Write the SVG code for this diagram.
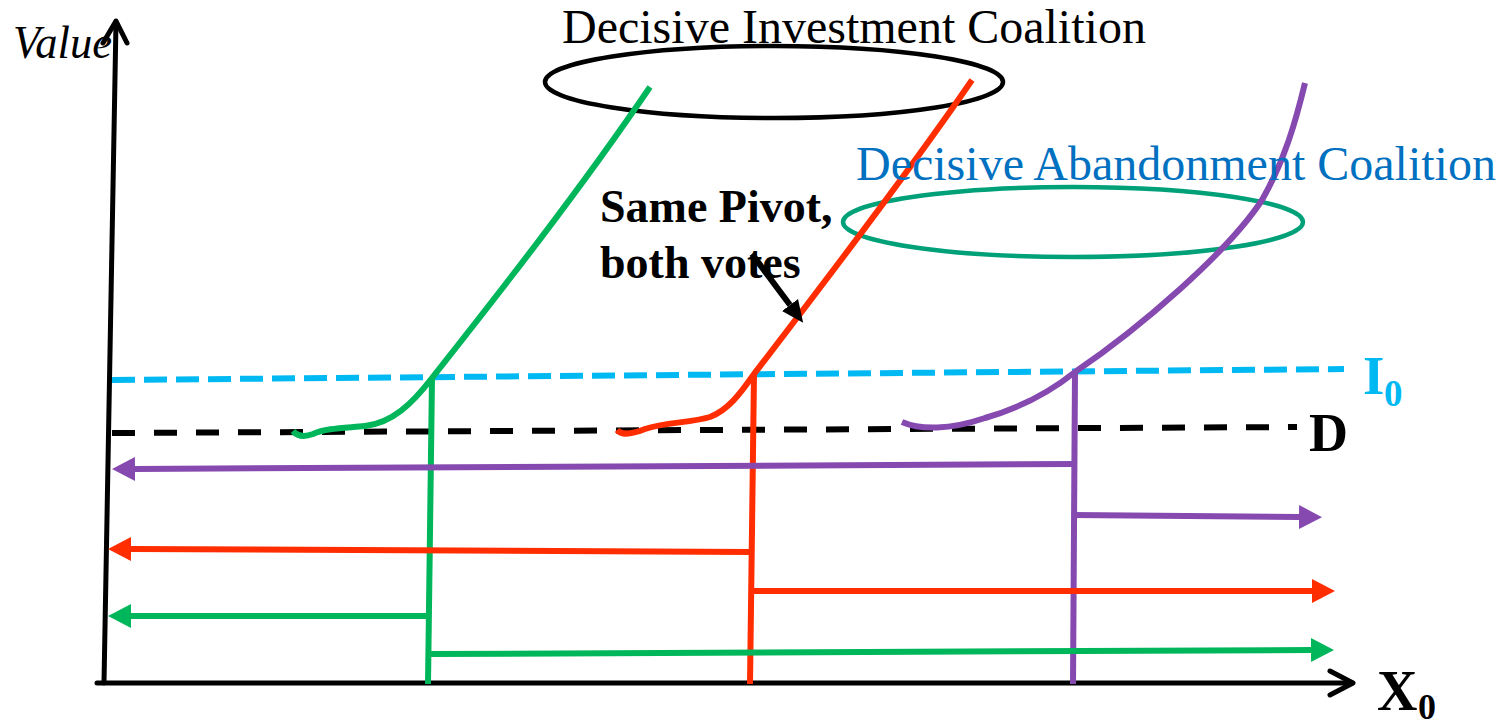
<svg xmlns="http://www.w3.org/2000/svg" width="1501" height="725" viewBox="0 0 1501 725">
<style>
.serif{font-family:"Liberation Serif","Times New Roman","DejaVu Serif",serif}
.axis{stroke:#000;stroke-width:5;fill:none;stroke-linecap:round;stroke-linejoin:round}
.dash{fill:none;stroke-width:6}
.curve{fill:none;stroke-width:6;stroke-linecap:butt}
.vert{fill:none;stroke-width:6}
.arr{fill:none;stroke-width:6}
.ell{fill:none;stroke-width:4.5}
</style>
<defs>
<marker id="mPurple" markerUnits="userSpaceOnUse" markerWidth="24" markerHeight="26" viewBox="0 0 24 26" refX="0" refY="13" orient="auto"><path d="M0,1 L23,13 L0,25 z" fill="#8549B0"/></marker>
<marker id="mRed" markerUnits="userSpaceOnUse" markerWidth="24" markerHeight="26" viewBox="0 0 24 26" refX="0" refY="13" orient="auto"><path d="M0,1 L23,13 L0,25 z" fill="#FF2D00"/></marker>
<marker id="mGreen" markerUnits="userSpaceOnUse" markerWidth="24" markerHeight="26" viewBox="0 0 24 26" refX="0" refY="13" orient="auto"><path d="M0,1 L23,13 L0,25 z" fill="#00B65A"/></marker>
<marker id="mBlack" markerUnits="userSpaceOnUse" markerWidth="24" markerHeight="24" viewBox="0 0 24 24" refX="0" refY="12" orient="auto"><path d="M0,2 L22,12 L0,22 z" fill="#000"/></marker>
</defs>

<g id="axes">
<path class="axis" d="M104,683 L116,22"/>
<path class="axis" d="M103,43 L116,21 L127,43"/>
<path class="axis" d="M97,683 L1352,683"/>
<path class="axis" d="M1330,671 L1353,683 L1330,695"/>
</g>

<g id="labels" class="serif">
<text x="13" y="58" font-size="46" font-style="italic" textLength="99" lengthAdjust="spacingAndGlyphs">Value</text>
<text x="1377" y="710" font-size="56" font-weight="bold">X</text>
<text x="1418" y="719" font-size="36" font-weight="bold">0</text>
<text x="1363" y="394" font-size="55" font-weight="bold" fill="#00B9F2">I</text>
<text x="1384" y="406" font-size="37" font-weight="bold" fill="#00B9F2">0</text>
<text x="1309" y="451" font-size="54" font-weight="bold">D</text>
</g>

<g id="ellipses">
<ellipse id="investment-ellipse" class="ell" cx="774" cy="82" rx="229" ry="36" stroke="#000"/>
<ellipse id="abandonment-ellipse" class="ell" cx="1073" cy="222" rx="230" ry="35" stroke="#00A078"/>
</g>

<g id="thresholds">
<path id="I0-line" class="dash" d="M112,380 L1344,369" stroke="#00B9F2" stroke-dasharray="23 9"/>
<path id="D-line" class="dash" d="M112,433 L1297,427" stroke="#000" stroke-width="5" stroke-dasharray="23 19"/>
</g>

<g id="curves">
<path id="green-curve" class="curve" stroke="#00B65A" d="M293,431 C298,437 305,437 313,434 C326,428 345,428 365,426 C392,423 412,404 432,378 C500,292 580,190 650,87"/>
<path id="red-curve" class="curve" stroke="#FF2D00" d="M617,430 C622,436 632,434 645,429 C665,422 690,423 710,417 C728,410 740,394 754,374 C800,314 900,185 972,80"/>
<path id="purple-curve" class="curve" stroke="#8549B0" d="M902,422 C920,430 950,430 985,418 C1020,408 1050,392 1075,372 C1140,328 1228,252 1262,200 C1285,160 1296,120 1305,83"/>
</g>

<g id="pivots">
<path id="green-pivot" class="vert" stroke="#00B65A" d="M432,378 L428,684"/>
<path id="red-pivot" class="vert" stroke="#FF2D00" d="M754,374 L750,684"/>
<path id="purple-pivot" class="vert" stroke="#8549B0" d="M1075,371 L1073,684"/>
</g>

<g id="connectors">
<path id="purple-left" class="arr" stroke="#8549B0" d="M1075,464 L135,469" marker-end="url(#mPurple)"/>
<path id="purple-right" class="arr" stroke="#8549B0" d="M1073,515 L1299,517" marker-end="url(#mPurple)"/>
<path id="red-left" class="arr" stroke="#FF2D00" d="M750,552 L131,549" marker-end="url(#mRed)"/>
<path id="red-right" class="arr" stroke="#FF2D00" d="M752,591 L1312,591" marker-end="url(#mRed)"/>
<path id="green-left" class="arr" stroke="#00B65A" d="M428,616 L131,616" marker-end="url(#mGreen)"/>
<path id="green-right" class="arr" stroke="#00B65A" d="M430,654 L1311,650" marker-end="url(#mGreen)"/>
<path id="pivot-pointer" fill="none" stroke="#000" stroke-width="6" d="M752,254 L790,305" marker-end="url(#mBlack)"/>
</g>

<g id="titles" class="serif">
<text x="562" y="43" font-size="48">Decisive Investment Coalition</text>
<text x="856" y="180" font-size="48" fill="#0070C0">Decisive Abandonment Coalition</text>
<text x="600" y="222" font-size="46" font-weight="bold">Same Pivot,</text>
<text x="600" y="278" font-size="46" font-weight="bold">both votes</text>
</g>
</svg>
